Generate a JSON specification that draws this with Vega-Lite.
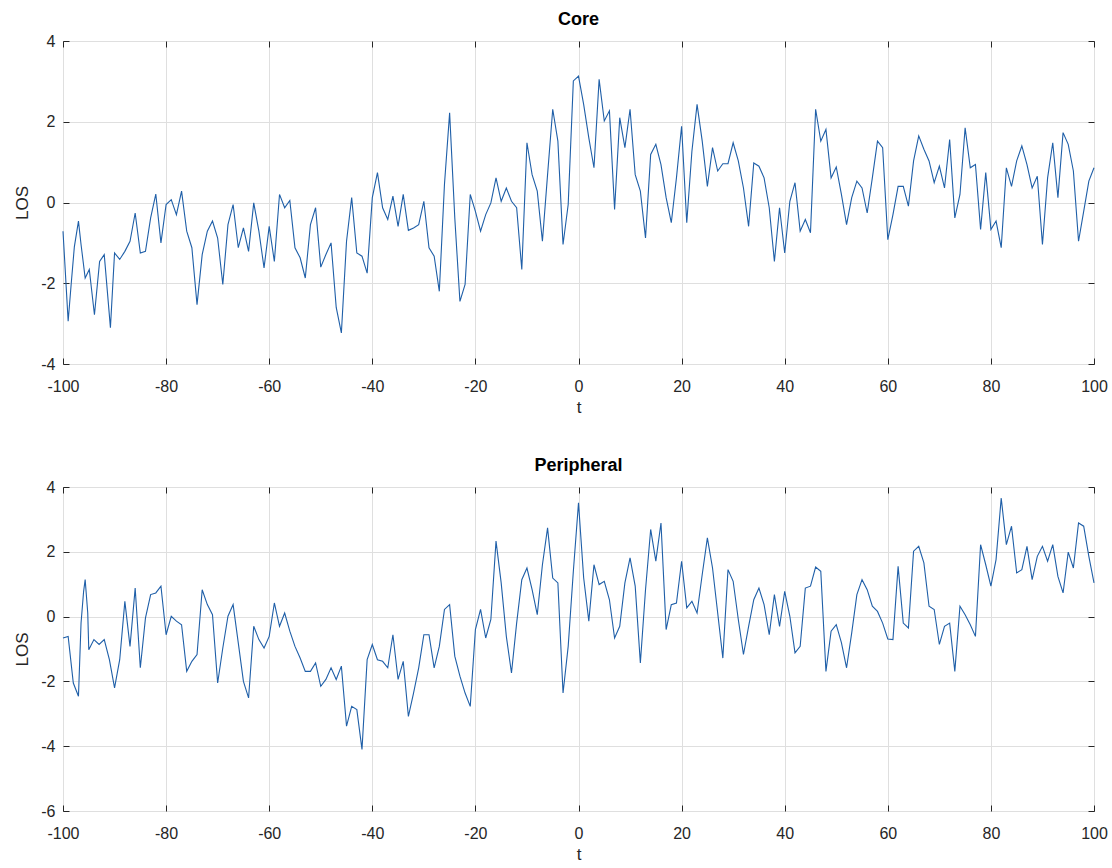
{
  "$schema": "https://vega.github.io/schema/vega-lite/v6.json",
  "background": "white",
  "padding": {"left": 13, "top": 10, "right": 10, "bottom": 5},
  "spacing": 40,
  "config": {
    "font": "Liberation Sans",
    "view": {"stroke": "#262626", "strokeWidth": 1},
    "axis": {
      "labelFont": "Liberation Sans", "labelFontSize": 16, "labelColor": "#262626", "labelFlush": false, "labelOverlap": false,
      "titleFont": "Liberation Sans", "titleFontSize": 17, "titleFontWeight": "normal", "titleColor": "#262626",
      "gridColor": "#dfdfdf", "gridOpacity": 1, "gridWidth": 1,
      "domain": false, "tickColor": "#262626", "tickSize": -6, "tickWidth": 1
    },
    "axisX": {"labelPadding": 20},
    "axisY": {"labelPadding": 14},
    "title": {"font": "Liberation Sans", "fontSize": 18, "fontWeight": "bold", "color": "#000000", "offset": 4}
  },
  "datasets": {
    "core": [
      {"t":-100,"LOS":-0.71},{"t":-99,"LOS":-2.94},{"t":-98.4,"LOS":-2.0},{"t":-97.8,"LOS":-1.1},{"t":-97,"LOS":-0.46},{"t":-96.5,"LOS":-1.04},{"t":-95.7,"LOS":-1.87},{"t":-94.9,"LOS":-1.66},{"t":-93.9,"LOS":-2.78},{"t":-92.9,"LOS":-1.46},{"t":-92,"LOS":-1.29},{"t":-90.8,"LOS":-3.1},{"t":-90,"LOS":-1.25},{"t":-89,"LOS":-1.41},{"t":-88,"LOS":-1.21},{"t":-87,"LOS":-0.96},{"t":-86,"LOS":-0.26},{"t":-85,"LOS":-1.25},{"t":-84,"LOS":-1.21},{"t":-83,"LOS":-0.38},{"t":-82,"LOS":0.21},{"t":-81,"LOS":-1.0},{"t":-80,"LOS":-0.05},{"t":-79,"LOS":0.07},{"t":-78,"LOS":-0.3},{"t":-77,"LOS":0.28},{"t":-76,"LOS":-0.71},{"t":-75,"LOS":-1.12},{"t":-74,"LOS":-2.53},{"t":-73,"LOS":-1.29},{"t":-72,"LOS":-0.71},{"t":-71,"LOS":-0.46},{"t":-70,"LOS":-0.88},{"t":-69,"LOS":-2.03},{"t":-68,"LOS":-0.55},{"t":-67,"LOS":-0.05},{"t":-66,"LOS":-1.12},{"t":-65,"LOS":-0.63},{"t":-64,"LOS":-1.21},{"t":-63,"LOS":-0.01},{"t":-62,"LOS":-0.71},{"t":-61,"LOS":-1.62},{"t":-60,"LOS":-0.59},{"t":-59,"LOS":-1.46},{"t":-58,"LOS":0.2},{"t":-57,"LOS":-0.13},{"t":-56,"LOS":0.05},{"t":-55,"LOS":-1.12},{"t":-54,"LOS":-1.37},{"t":-53,"LOS":-1.87},{"t":-52,"LOS":-0.55},{"t":-51,"LOS":-0.13},{"t":-50,"LOS":-1.6},{"t":-49,"LOS":-1.29},{"t":-48,"LOS":-1.0},{"t":-47,"LOS":-2.6},{"t":-46,"LOS":-3.23},{"t":-45,"LOS":-0.96},{"t":-44,"LOS":0.12},{"t":-43,"LOS":-1.25},{"t":-42,"LOS":-1.33},{"t":-41,"LOS":-1.75},{"t":-40,"LOS":0.12},{"t":-39,"LOS":0.74},{"t":-38,"LOS":-0.13},{"t":-37,"LOS":-0.42},{"t":-36,"LOS":0.16},{"t":-35,"LOS":-0.59},{"t":-34,"LOS":0.2},{"t":-33,"LOS":-0.69},{"t":-32,"LOS":-0.63},{"t":-31,"LOS":-0.55},{"t":-30,"LOS":0.03},{"t":-29,"LOS":-1.12},{"t":-28,"LOS":-1.33},{"t":-27,"LOS":-2.2},{"t":-26,"LOS":0.45},{"t":-25,"LOS":2.22},{"t":-24,"LOS":-0.38},{"t":-23,"LOS":-2.45},{"t":-22,"LOS":-2.03},{"t":-21,"LOS":0.2},{"t":-20,"LOS":-0.22},{"t":-19,"LOS":-0.71},{"t":-18,"LOS":-0.3},{"t":-17,"LOS":-0.01},{"t":-16,"LOS":0.61},{"t":-15,"LOS":0.03},{"t":-14,"LOS":0.36},{"t":-13,"LOS":0.03},{"t":-12,"LOS":-0.13},{"t":-11,"LOS":-1.66},{"t":-10,"LOS":1.48},{"t":-9,"LOS":0.69},{"t":-8,"LOS":0.28},{"t":-7,"LOS":-0.96},{"t":-6,"LOS":0.69},{"t":-5,"LOS":2.31},{"t":-4,"LOS":1.52},{"t":-3,"LOS":-1.04},{"t":-2,"LOS":-0.05},{"t":-1,"LOS":3.01},{"t":0,"LOS":3.13},{"t":1,"LOS":2.43},{"t":2,"LOS":1.6},{"t":3,"LOS":0.86},{"t":4,"LOS":3.05},{"t":5,"LOS":2.02},{"t":6,"LOS":2.27},{"t":7,"LOS":-0.17},{"t":8,"LOS":2.1},{"t":9,"LOS":1.36},{"t":10,"LOS":2.31},{"t":11,"LOS":0.69},{"t":12,"LOS":0.28},{"t":13,"LOS":-0.88},{"t":14,"LOS":1.19},{"t":15,"LOS":1.44},{"t":16,"LOS":0.94},{"t":17,"LOS":0.12},{"t":18,"LOS":-0.5},{"t":19,"LOS":0.61},{"t":20,"LOS":1.89},{"t":21,"LOS":-0.5},{"t":22,"LOS":1.27},{"t":23,"LOS":2.43},{"t":24,"LOS":1.52},{"t":25,"LOS":0.4},{"t":26,"LOS":1.36},{"t":27,"LOS":0.78},{"t":28,"LOS":0.96},{"t":29,"LOS":0.96},{"t":30,"LOS":1.48},{"t":31,"LOS":1.03},{"t":32,"LOS":0.36},{"t":33,"LOS":-0.59},{"t":34,"LOS":0.98},{"t":35,"LOS":0.9},{"t":36,"LOS":0.61},{"t":37,"LOS":-0.13},{"t":38,"LOS":-1.46},{"t":39,"LOS":-0.13},{"t":40,"LOS":-1.25},{"t":41,"LOS":0.03},{"t":42,"LOS":0.49},{"t":43,"LOS":-0.71},{"t":44,"LOS":-0.42},{"t":45,"LOS":-0.75},{"t":46,"LOS":2.31},{"t":47,"LOS":1.52},{"t":48,"LOS":1.81},{"t":49,"LOS":0.61},{"t":50,"LOS":0.88},{"t":51,"LOS":0.2},{"t":52,"LOS":-0.55},{"t":53,"LOS":0.12},{"t":54,"LOS":0.53},{"t":55,"LOS":0.36},{"t":56,"LOS":-0.26},{"t":57,"LOS":0.61},{"t":58,"LOS":1.52},{"t":59,"LOS":1.36},{"t":60,"LOS":-0.92},{"t":61,"LOS":-0.3},{"t":62,"LOS":0.4},{"t":63,"LOS":0.4},{"t":64,"LOS":-0.09},{"t":65,"LOS":1.03},{"t":66,"LOS":1.65},{"t":67,"LOS":1.32},{"t":68,"LOS":1.03},{"t":69,"LOS":0.49},{"t":70,"LOS":0.9},{"t":71,"LOS":0.36},{"t":72,"LOS":1.56},{"t":73,"LOS":-0.38},{"t":74,"LOS":0.2},{"t":75,"LOS":1.85},{"t":76,"LOS":0.86},{"t":77,"LOS":0.94},{"t":78,"LOS":-0.67},{"t":79,"LOS":0.74},{"t":80,"LOS":-0.67},{"t":81,"LOS":-0.46},{"t":82,"LOS":-1.12},{"t":83,"LOS":0.86},{"t":84,"LOS":0.4},{"t":85,"LOS":1.03},{"t":86,"LOS":1.4},{"t":87,"LOS":0.94},{"t":88,"LOS":0.36},{"t":89,"LOS":0.65},{"t":90,"LOS":-1.04},{"t":91,"LOS":0.61},{"t":92,"LOS":1.48},{"t":93,"LOS":0.12},{"t":94,"LOS":1.73},{"t":95,"LOS":1.44},{"t":96,"LOS":0.78},{"t":97,"LOS":-0.96},{"t":98,"LOS":-0.22},{"t":99,"LOS":0.53},{"t":100,"LOS":0.86}
    ],
    "peri": [
      {"t":-100,"LOS":-0.66},{"t":-99,"LOS":-0.61},{"t":-98,"LOS":-2.05},{"t":-97,"LOS":-2.46},{"t":-96.5,"LOS":-0.2},{"t":-96,"LOS":0.78},{"t":-95.7,"LOS":1.14},{"t":-95.2,"LOS":0.11},{"t":-95,"LOS":-1.02},{"t":-94,"LOS":-0.71},{"t":-93,"LOS":-0.86},{"t":-92,"LOS":-0.71},{"t":-91,"LOS":-1.33},{"t":-90,"LOS":-2.2},{"t":-89,"LOS":-1.33},{"t":-88,"LOS":0.47},{"t":-87,"LOS":-0.92},{"t":-86,"LOS":0.88},{"t":-85,"LOS":-1.58},{"t":-84,"LOS":-0.04},{"t":-83,"LOS":0.68},{"t":-82,"LOS":0.73},{"t":-81,"LOS":0.94},{"t":-80,"LOS":-0.56},{"t":-79,"LOS":0.01},{"t":-78,"LOS":-0.14},{"t":-77,"LOS":-0.25},{"t":-76,"LOS":-1.69},{"t":-75,"LOS":-1.38},{"t":-74,"LOS":-1.17},{"t":-73,"LOS":0.83},{"t":-72,"LOS":0.37},{"t":-71,"LOS":0.06},{"t":-70,"LOS":-2.05},{"t":-69,"LOS":-0.97},{"t":-68,"LOS":0.01},{"t":-67,"LOS":0.37},{"t":-66,"LOS":-0.81},{"t":-65,"LOS":-2.0},{"t":-64,"LOS":-2.51},{"t":-63,"LOS":-0.3},{"t":-62,"LOS":-0.71},{"t":-61,"LOS":-0.97},{"t":-60,"LOS":-0.61},{"t":-59,"LOS":0.42},{"t":-58,"LOS":-0.3},{"t":-57,"LOS":0.11},{"t":-56,"LOS":-0.45},{"t":-55,"LOS":-0.92},{"t":-54,"LOS":-1.28},{"t":-53,"LOS":-1.69},{"t":-52,"LOS":-1.69},{"t":-51,"LOS":-1.43},{"t":-50,"LOS":-2.15},{"t":-49,"LOS":-1.94},{"t":-48,"LOS":-1.58},{"t":-47,"LOS":-1.94},{"t":-46,"LOS":-1.53},{"t":-45,"LOS":-3.38},{"t":-44,"LOS":-2.77},{"t":-43,"LOS":-2.87},{"t":-42,"LOS":-4.1},{"t":-41,"LOS":-1.33},{"t":-40,"LOS":-0.86},{"t":-39,"LOS":-1.33},{"t":-38,"LOS":-1.38},{"t":-37,"LOS":-1.58},{"t":-36,"LOS":-0.56},{"t":-35,"LOS":-1.94},{"t":-34,"LOS":-1.38},{"t":-33,"LOS":-3.08},{"t":-32,"LOS":-2.36},{"t":-31,"LOS":-1.58},{"t":-30,"LOS":-0.56},{"t":-29,"LOS":-0.56},{"t":-28,"LOS":-1.58},{"t":-27,"LOS":-0.92},{"t":-26,"LOS":0.22},{"t":-25,"LOS":0.37},{"t":-24,"LOS":-1.22},{"t":-23,"LOS":-1.84},{"t":-22,"LOS":-2.36},{"t":-21,"LOS":-2.77},{"t":-20,"LOS":-0.4},{"t":-19,"LOS":0.22},{"t":-18,"LOS":-0.66},{"t":-17,"LOS":-0.09},{"t":-16,"LOS":2.33},{"t":-15,"LOS":1.04},{"t":-14,"LOS":-0.61},{"t":-13,"LOS":-1.74},{"t":-12,"LOS":-0.2},{"t":-11,"LOS":1.14},{"t":-10,"LOS":1.5},{"t":-9,"LOS":0.83},{"t":-8,"LOS":0.06},{"t":-7,"LOS":1.6},{"t":-6,"LOS":2.74},{"t":-5,"LOS":1.19},{"t":-4,"LOS":1.04},{"t":-3,"LOS":-2.36},{"t":-2,"LOS":-0.92},{"t":-1,"LOS":1.4},{"t":0,"LOS":3.51},{"t":1,"LOS":1.2},{"t":2,"LOS":-0.14},{"t":3,"LOS":1.6},{"t":4,"LOS":0.99},{"t":5,"LOS":1.09},{"t":6,"LOS":0.52},{"t":7,"LOS":-0.66},{"t":8,"LOS":-0.3},{"t":9,"LOS":1.04},{"t":10,"LOS":1.81},{"t":11,"LOS":0.94},{"t":12,"LOS":-1.43},{"t":13,"LOS":0.83},{"t":14,"LOS":2.69},{"t":15,"LOS":1.71},{"t":16,"LOS":2.89},{"t":17,"LOS":-0.4},{"t":18,"LOS":0.37},{"t":19,"LOS":0.42},{"t":20,"LOS":1.71},{"t":21,"LOS":0.27},{"t":22,"LOS":0.47},{"t":23,"LOS":0.11},{"t":24,"LOS":1.3},{"t":25,"LOS":2.43},{"t":26,"LOS":1.5},{"t":27,"LOS":0.11},{"t":28,"LOS":-1.28},{"t":29,"LOS":1.45},{"t":30,"LOS":1.09},{"t":31,"LOS":-0.09},{"t":32,"LOS":-1.17},{"t":33,"LOS":-0.3},{"t":34,"LOS":0.52},{"t":35,"LOS":0.88},{"t":36,"LOS":0.37},{"t":37,"LOS":-0.56},{"t":38,"LOS":0.68},{"t":39,"LOS":-0.3},{"t":40,"LOS":0.78},{"t":41,"LOS":0.01},{"t":42,"LOS":-1.12},{"t":43,"LOS":-0.92},{"t":44,"LOS":0.88},{"t":45,"LOS":0.94},{"t":46,"LOS":1.53},{"t":47,"LOS":1.4},{"t":48,"LOS":-1.69},{"t":49,"LOS":-0.45},{"t":50,"LOS":-0.25},{"t":51,"LOS":-0.8},{"t":52,"LOS":-1.58},{"t":53,"LOS":-0.5},{"t":54,"LOS":0.68},{"t":55,"LOS":1.14},{"t":56,"LOS":0.83},{"t":57,"LOS":0.32},{"t":58,"LOS":0.16},{"t":59,"LOS":-0.2},{"t":60,"LOS":-0.69},{"t":61,"LOS":-0.71},{"t":62,"LOS":1.55},{"t":63,"LOS":-0.2},{"t":64,"LOS":-0.35},{"t":65,"LOS":2.02},{"t":66,"LOS":2.17},{"t":67,"LOS":1.66},{"t":68,"LOS":0.32},{"t":69,"LOS":0.22},{"t":70,"LOS":-0.86},{"t":71,"LOS":-0.3},{"t":72,"LOS":-0.2},{"t":73,"LOS":-1.69},{"t":74,"LOS":0.32},{"t":75,"LOS":0.06},{"t":76,"LOS":-0.25},{"t":77,"LOS":-0.61},{"t":78,"LOS":2.22},{"t":79,"LOS":1.6},{"t":80,"LOS":0.94},{"t":81,"LOS":1.76},{"t":82,"LOS":3.66},{"t":83,"LOS":2.22},{"t":84,"LOS":2.79},{"t":85,"LOS":1.35},{"t":86,"LOS":1.45},{"t":87,"LOS":2.17},{"t":88,"LOS":1.14},{"t":89,"LOS":1.86},{"t":90,"LOS":2.17},{"t":91,"LOS":1.71},{"t":92,"LOS":2.22},{"t":93,"LOS":1.24},{"t":94,"LOS":0.73},{"t":95,"LOS":1.99},{"t":96,"LOS":1.5},{"t":97,"LOS":2.89},{"t":98,"LOS":2.79},{"t":99,"LOS":1.86},{"t":100,"LOS":1.04}
    ]
  },
  "vconcat": [
    {
      "width": 1031, "height": 323,
      "title": {"text": "Core"},
      "data": {"name": "core"},
      "layer": [
        {
          "mark": {"type": "line", "color": "#1f5fa8", "strokeWidth": 1.1},
          "encoding": {
            "x": {"field": "t", "type": "quantitative", "scale": {"domain": [-100, 100], "nice": false},
                  "axis": {"orient": "bottom", "values": [-100,-80,-60,-40,-20,0,20,40,60,80,100], "labelExpr": "datum.value + ''", "title": "t", "titlePadding": 5}},
            "y": {"field": "LOS", "type": "quantitative", "scale": {"domain": [-4, 4], "nice": false},
                  "axis": {"orient": "left", "values": [-4,-2,0,2,4], "labelExpr": "datum.value + ''", "title": "LOS", "titlePadding": 9}}
          }
        },
        {
          "mark": {"type": "line", "opacity": 0},
          "encoding": {
            "x": {"field": "t", "type": "quantitative", "axis": {"orient": "top", "values": [-100,-80,-60,-40,-20,0,20,40,60,80,100], "labels": false, "title": null, "grid": false}},
            "y": {"field": "LOS", "type": "quantitative", "axis": {"orient": "right", "values": [-4,-2,0,2,4], "labels": false, "title": null, "grid": false}}
          }
        }
      ],
      "resolve": {"axis": {"x": "independent", "y": "independent"}}
    },
    {
      "width": 1031, "height": 324,
      "title": {"text": "Peripheral"},
      "data": {"name": "peri"},
      "layer": [
        {
          "mark": {"type": "line", "color": "#1f5fa8", "strokeWidth": 1.1},
          "encoding": {
            "x": {"field": "t", "type": "quantitative", "scale": {"domain": [-100, 100], "nice": false},
                  "axis": {"orient": "bottom", "values": [-100,-80,-60,-40,-20,0,20,40,60,80,100], "labelExpr": "datum.value + ''", "title": "t", "titlePadding": 5}},
            "y": {"field": "LOS", "type": "quantitative", "scale": {"domain": [-6, 4], "nice": false},
                  "axis": {"orient": "left", "values": [-6,-4,-2,0,2,4], "labelExpr": "datum.value + ''", "title": "LOS", "titlePadding": 9}}
          }
        },
        {
          "mark": {"type": "line", "opacity": 0},
          "encoding": {
            "x": {"field": "t", "type": "quantitative", "axis": {"orient": "top", "values": [-100,-80,-60,-40,-20,0,20,40,60,80,100], "labels": false, "title": null, "grid": false}},
            "y": {"field": "LOS", "type": "quantitative", "axis": {"orient": "right", "values": [-6,-4,-2,0,2,4], "labels": false, "title": null, "grid": false}}
          }
        }
      ],
      "resolve": {"axis": {"x": "independent", "y": "independent"}}
    }
  ]
}
